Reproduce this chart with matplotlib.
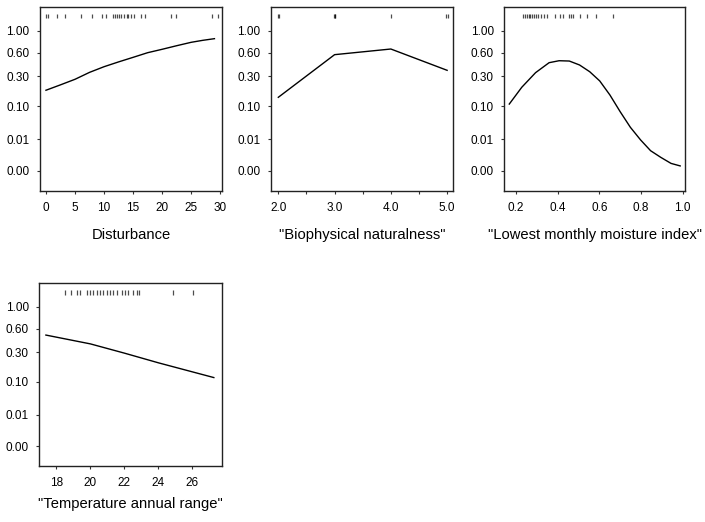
import numpy as np
import matplotlib
matplotlib.use("Agg")
import matplotlib.pyplot as plt

plt.rcParams['font.family'] = ['Liberation Sans', 'DejaVu Sans']

# ---------------- y axis: probability labels on a stretched scale ----------------
ytick_probs = [0.0, 0.01, 0.10, 0.30, 0.60, 1.00]
ytick_labels = ["0.00", "0.01", "0.10", "0.30", "0.60", "1.00"]
ytick_pos = [0.0, 31.7, 64.7, 94.7, 118.3, 140.3]   # spacing of the ticks on the axis

slope_lo = (ytick_pos[1] - ytick_pos[0]) / (ytick_probs[1] - ytick_probs[0])
slope_hi = (ytick_pos[-1] - ytick_pos[-2]) / (ytick_probs[-1] - ytick_probs[-2])


def fwd(p):
    p = np.asarray(p, dtype=float)
    out = np.interp(p, ytick_probs, ytick_pos)
    out = np.where(p < ytick_probs[0], ytick_pos[0] + (p - ytick_probs[0]) * slope_lo, out)
    out = np.where(p > ytick_probs[-1], ytick_pos[-1] + (p - ytick_probs[-1]) * slope_hi, out)
    return out


def inv(v):
    v = np.asarray(v, dtype=float)
    out = np.interp(v, ytick_pos, ytick_probs)
    out = np.where(v < ytick_pos[0], ytick_probs[0] + (v - ytick_pos[0]) / slope_lo, out)
    out = np.where(v > ytick_pos[-1], ytick_probs[-1] + (v - ytick_pos[-1]) / slope_hi, out)
    return out


# ---------------- data ----------------
dist_x = [0, 2.5, 5, 7.5, 10, 12.5, 15, 17.5, 20, 22.5, 25, 27, 29]
dist_y = [0.207, 0.243, 0.28, 0.35, 0.422, 0.483, 0.541, 0.60, 0.662, 0.727,
          0.789, 0.825, 0.855]
dist_rug = [0, 0.3, 1.9, 3.2, 6.1, 7.9, 9.6, 10.3, 11.5, 11.9, 12.2, 12.6, 13.0,
            13.5, 14.0, 14.1, 14.7, 15.2, 16.3, 17.0, 21.6, 22.3, 28.6, 29.6]

nat_x = [2.0, 3.0, 4.0, 5.0]
nat_y = [0.16, 0.575, 0.667, 0.376]
nat_rug = [1.99, 2.02, 2.99, 3.0, 3.01, 4.0, 4.98, 5.01]

moist_x = [0.168, 0.228, 0.294, 0.359, 0.407, 0.456, 0.505, 0.554, 0.602,
           0.651, 0.70, 0.749, 0.798, 0.846, 0.895, 0.944, 0.988]
moist_y = [0.115, 0.227, 0.346, 0.473, 0.498, 0.494, 0.444, 0.358, 0.269,
           0.175, 0.0853, 0.0427, 0.0098, 0.0064, 0.0043, 0.0024, 0.0016]
moist_rug = [0.233, 0.245, 0.253, 0.261, 0.269, 0.277, 0.285, 0.294, 0.306,
             0.318, 0.334, 0.35, 0.388, 0.411, 0.427, 0.453, 0.464, 0.476,
             0.505, 0.541, 0.586, 0.667]

temp_x = [17.38, 20, 22, 24, 27.26]
temp_y = [0.518, 0.405, 0.293, 0.228, 0.129]
temp_rug = [18.5, 18.85, 19.19, 19.38, 19.81, 19.97, 20.16, 20.36, 20.56, 20.75,
            20.95, 21.15, 21.34, 21.54, 21.84, 22.03, 22.22, 22.52, 22.72, 22.87,
            24.84, 26.01]

panels = [
    dict(rect=[0.0567, 0.6341, 0.2582, 0.3525], x=dist_x, y=dist_y, rug=dist_rug,
         xlim=(-1.03, 30.3), xticks=[0, 5, 10, 15, 20, 25, 30],
         xlabels=["0", "5", "10", "15", "20", "25", "30"], label="Disturbance", lpad=9.8),
    dict(rect=[0.3844, 0.6341, 0.2586, 0.3525], x=nat_x, y=nat_y, rug=nat_rug,
         xlim=(1.87, 5.11), xticks=[2.0, 2.5, 3.0, 3.5, 4.0, 4.5, 5.0],
         xlabels=["2.0", "", "3.0", "", "4.0", "", "5.0"],
         label='"Biophysical naturalness"', lpad=9.8),
    dict(rect=[0.7153, 0.6341, 0.2563, 0.3525], x=moist_x, y=moist_y, rug=moist_rug,
         xlim=(0.144, 1.011), xticks=[0.2, 0.4, 0.6, 0.8, 1.0],
         xlabels=["0.2", "0.4", "0.6", "0.8", "1.0"],
         label='"Lowest monthly moisture index"', lpad=9.8),
    dict(rect=[0.0557, 0.1073, 0.2587, 0.35], x=temp_x, y=temp_y, rug=temp_rug,
         xlim=(16.99, 27.72), xticks=[18, 20, 22, 24, 26],
         xlabels=["18", "20", "22", "24", "26"],
         label='"Temperature annual range"', lpad=5.5),
]

fig = plt.figure(figsize=(7.05, 5.22), dpi=100)

for p in panels:
    ax = fig.add_axes(p["rect"])
    ax.set_yscale('function', functions=(fwd, inv))
    ax.plot(p["x"], p["y"], color='black', lw=1.0)
    ax.vlines(p["rug"], 0.938, 0.962, transform=ax.get_xaxis_transform(),
              color='black', lw=0.9, alpha=0.7)
    ax.set_xlim(*p["xlim"])
    ax.set_ylim(inv(-20.0), inv(164.0))
    ax.set_yticks(ytick_probs)
    ax.set_yticklabels(ytick_labels)
    ax.set_xticks(p["xticks"])
    ax.set_xticklabels(p["xlabels"])
    ax.minorticks_off()
    ax.tick_params(axis='both', length=2.5, width=0.8, labelsize=8.5, color='#333333')
    ax.tick_params(axis='x', pad=5.5)
    ax.tick_params(axis='y', pad=5)
    for s in ax.spines.values():
        s.set_linewidth(1.0)
        s.set_color('#222222')
    ax.set_xlabel(p["label"], fontsize=10.6, labelpad=p["lpad"])

fig.savefig("out.png", dpi=100)
